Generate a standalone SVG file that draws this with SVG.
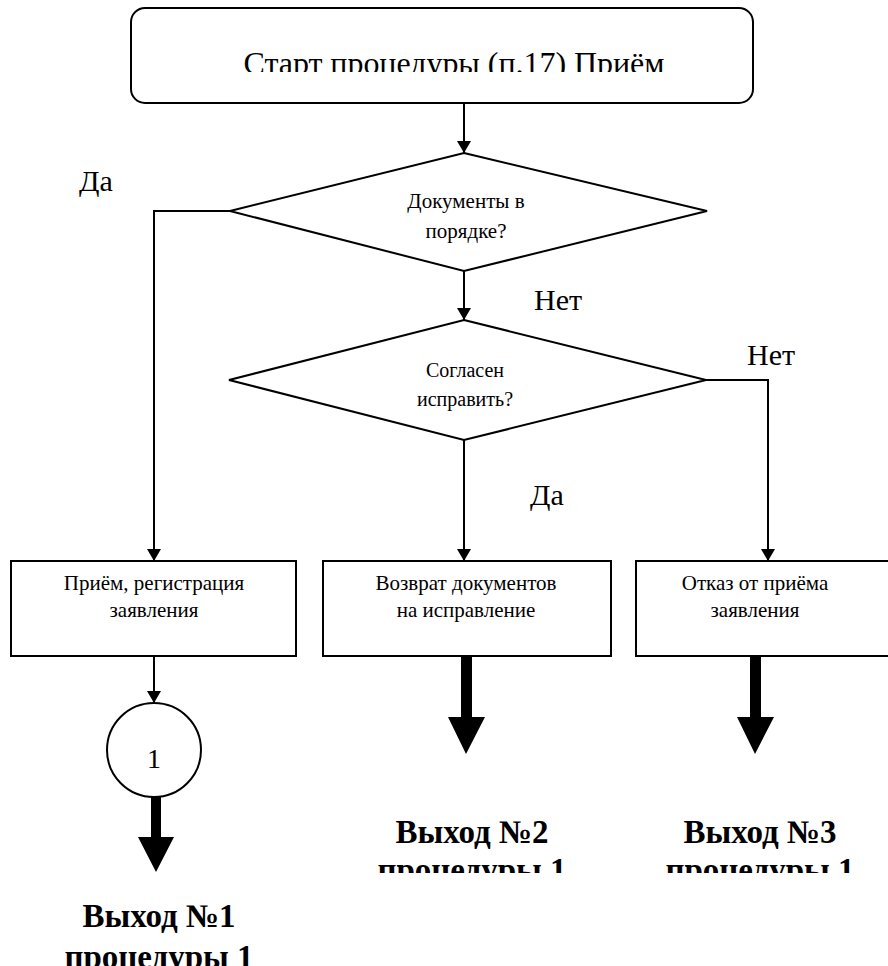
<svg xmlns="http://www.w3.org/2000/svg" width="888" height="966" viewBox="0 0 888 966">
<style>
.s{fill:#fff;stroke:#000;stroke-width:2}
.c{fill:none;stroke:#000;stroke-width:2}
.t{font-family:"Liberation Serif","Times New Roman",serif;fill:#000}
.m{text-anchor:middle}
.b{font-weight:bold}
</style>
<defs>
<marker id="ah" viewBox="0 0 12 14" refX="12" refY="7" markerWidth="12" markerHeight="14" markerUnits="userSpaceOnUse" orient="auto">
<path d="M0,0 L12,7 L0,14 Z" fill="#000"/>
</marker>
<clipPath id="clipTop"><rect x="0" y="0" width="888" height="72"/></clipPath>
<clipPath id="clipExit"><rect x="0" y="0" width="888" height="873"/></clipPath>
</defs>
<rect width="888" height="966" fill="#fff"/>
<g id="start">
<rect class="s" x="131" y="8" width="622" height="95" rx="14"/>
<text class="t m" x="454" y="74" font-size="32" textLength="421" clip-path="url(#clipTop)">Старт процедуры (п.17) Приём</text>
</g>
<g id="d1">
<polygon class="s" points="464,153 707,211 464,271 230,211"/>
<text class="t m" x="466" y="208" font-size="21">Документы в</text>
<text class="t m" x="466" y="238" font-size="21">порядке?</text>
</g>
<g id="d2">
<polygon class="s" points="464,320 706,380 464,440 229,380"/>
<text class="t m" x="465" y="377" font-size="20">Согласен</text>
<text class="t m" x="465" y="406" font-size="20">исправить?</text>
</g>
<g id="b1">
<rect class="s" x="11" y="561" width="285" height="95"/>
<text class="t m" x="154" y="590" font-size="21">Приём, регистрация</text>
<text class="t m" x="154" y="617" font-size="21">заявления</text>
</g>
<g id="b2">
<rect class="s" x="323" y="561" width="288" height="95"/>
<text class="t m" x="466" y="590" font-size="21">Возврат документов</text>
<text class="t m" x="466" y="617" font-size="21">на исправление</text>
</g>
<g id="b3">
<rect class="s" x="636" y="561" width="270" height="95"/>
<text class="t m" x="755" y="590" font-size="21">Отказ от приёма</text>
<text class="t m" x="755" y="617" font-size="21">заявления</text>
</g>
<g id="c1">
<circle class="s" cx="154" cy="750" r="47"/>
<text class="t m" x="154" y="768" font-size="28">1</text>
</g>
<g id="labels">
<text class="t" x="79" y="191" font-size="30">Да</text>
<text class="t" x="534" y="310" font-size="30">Нет</text>
<text class="t" x="747" y="365" font-size="30">Нет</text>
<text class="t" x="530" y="505" font-size="30">Да</text>
</g>
<g id="exit1">
<text class="t m b" x="159" y="927" font-size="33">Выход №1</text>
<text class="t m b" x="159" y="968" font-size="33">процедуры 1</text>
</g>
<g id="exit2" clip-path="url(#clipExit)">
<text class="t m b" x="472" y="843" font-size="33">Выход №2</text>
<text class="t m b" x="472" y="881" font-size="33">процедуры 1</text>
</g>
<g id="exit3" clip-path="url(#clipExit)">
<text class="t m b" x="760" y="843" font-size="33">Выход №3</text>
<text class="t m b" x="760" y="881" font-size="33">процедуры 1</text>
</g>
<g id="connectors">
<path class="c" d="M464,103 V153" marker-end="url(#ah)"/>
<path class="c" d="M230,211 H154 V561" marker-end="url(#ah)"/>
<path class="c" d="M464,271 V320" marker-end="url(#ah)"/>
<path class="c" d="M706,380 H768 V561" marker-end="url(#ah)"/>
<path class="c" d="M464,440 V561" marker-end="url(#ah)"/>
<path class="c" d="M154,656 V703" marker-end="url(#ah)"/>
<polygon points="151,797 161,797 161,837 174,837 156,872 138,837 151,837" fill="#000"/>
<polygon points="461,656 472,656 472,717 485,717 466,754 448,717 461,717" fill="#000"/>
<polygon points="750,656 761,656 761,717 774,717 755,754 737,717 750,717" fill="#000"/>
</g>
</svg>
